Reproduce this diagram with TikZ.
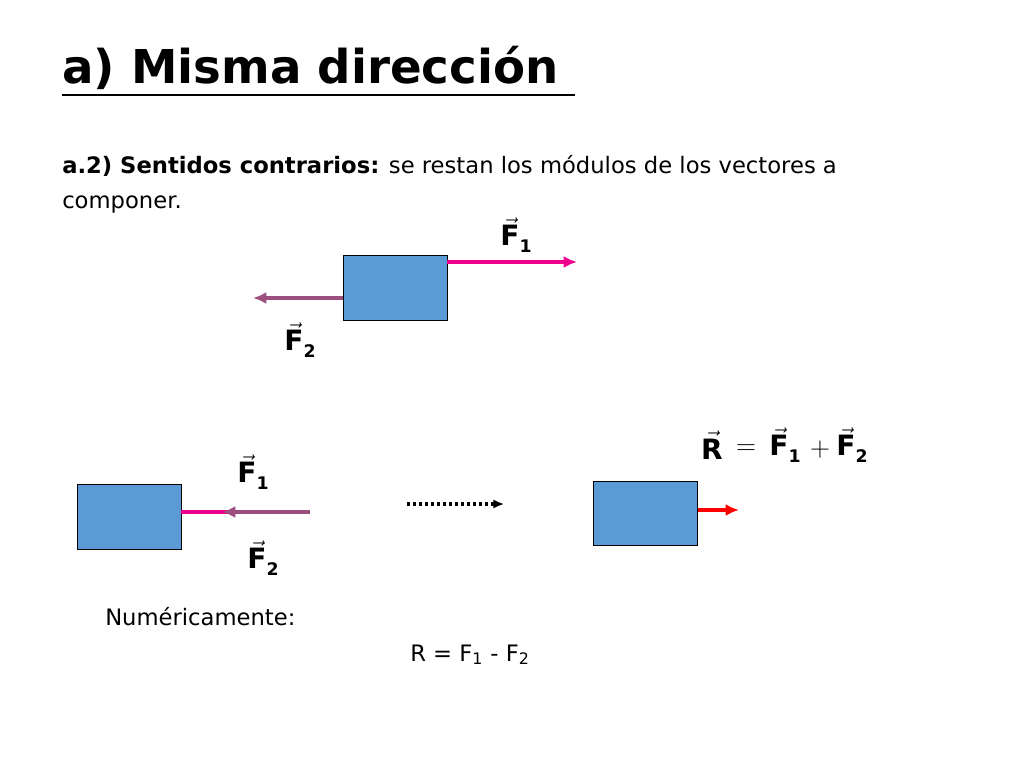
\documentclass[tikz,border=0pt]{standalone}
\usepackage{fontspec}
\setmainfont{DejaVu Sans}
\definecolor{boxblue}{HTML}{5B9BD5}
\definecolor{purp}{HTML}{9B4F7F}
\usetikzlibrary{arrows.meta}
\tikzset{blk/.style={draw=black,fill=boxblue,line width=0.8pt},
 vec/.style={line width=3.2pt,-{Latex[length=10pt,width=9pt]}},
 lab/.style={font=\fontsize{21}{24}\selectfont\bfseries,inner sep=1pt}}
\newcommand{\vF}[1]{$\vec{\textbf{F}}$\raisebox{-5pt}{\fontsize{13}{14}\selectfont\bfseries #1}}
\begin{document}
\begin{tikzpicture}[x=0.75pt,y=-0.75pt]
\useasboundingbox (0,0) rectangle (1024,768);
\node[anchor=base west,font=\fontsize{35}{40}\selectfont\bfseries,inner sep=0] (title) at (62,83) {a) Misma dirección};
\draw[line width=2pt] (62,95) -- (575,95);
\node[anchor=base west,inner sep=0,font=\fontsize{17}{20}\selectfont] (t1) at (62,173) {\textbf{a.2) Sentidos contrarios:} se restan los módulos de los vectores a};
\node[anchor=base west,inner sep=0,font=\fontsize{17}{20}\selectfont] (t2) at (62,208) {componer.};
% top scene
\node[blk,minimum width=78pt,minimum height=48.75pt,anchor=north west,inner sep=0] (b1) at (343,255) {};
\coordinate (f1e) at (577,262);
\draw[vec,magenta] (447,262) -- (f1e);
\node[lab] (l1) at (516,235) {\vF{1}};
\coordinate (f2e) at (253,298);
\draw[vec,purp] (343,298) -- (f2e);
\node[lab] (l2) at (300,340) {\vF{2}};
% bottom left
\node[blk,minimum width=78pt,minimum height=48.75pt,anchor=north west,inner sep=0] (b2) at (77,484) {};
\coordinate (m1) at (310,512);
\coordinate (m2) at (222,512);
\draw[line width=3.2pt,magenta] (181,512) -- (m1);
\draw[vec,purp] (m1) -- (m2);
\node[lab] (l3) at (253,472) {\vF{1}};
\node[lab] (l4) at (263,558) {\vF{2}};
% dotted arrow
\coordinate (d1) at (407,504); \coordinate (d2) at (504,504);
\draw[line width=2.5pt,dotted,-{Latex[length=8pt,width=7pt]}] (d1) -- (d2);
% right
\node[blk,minimum width=78pt,minimum height=48pt,anchor=north west,inner sep=0] (b3) at (593,481) {};
\coordinate (r) at (739,510);
\draw[vec,red] (b3.east |- r) -- (r);
\node[lab] (eR) at (712,445) {$\vec{\textbf{R}}$};
\node[font=\fontsize{21}{24}\selectfont,inner sep=1pt] (eq1) at (746,450) {$=$};
\node[lab] (eF1) at (785,445) {\vF{1}};
\node[font=\fontsize{21}{24}\selectfont,inner sep=1pt] (eq2) at (820,450) {$+$};
\node[lab] (eF2) at (852,445) {\vF{2}};
\node[anchor=base west,inner sep=0,font=\fontsize{17}{20}\selectfont] (n) at (105,625) {Numéricamente:};
\node[anchor=base west,inner sep=0,font=\fontsize{17}{20}\selectfont] (n2) at (410,661) {R = F\textsubscript{1} - F\textsubscript{2}};
\end{tikzpicture}
\end{document}
